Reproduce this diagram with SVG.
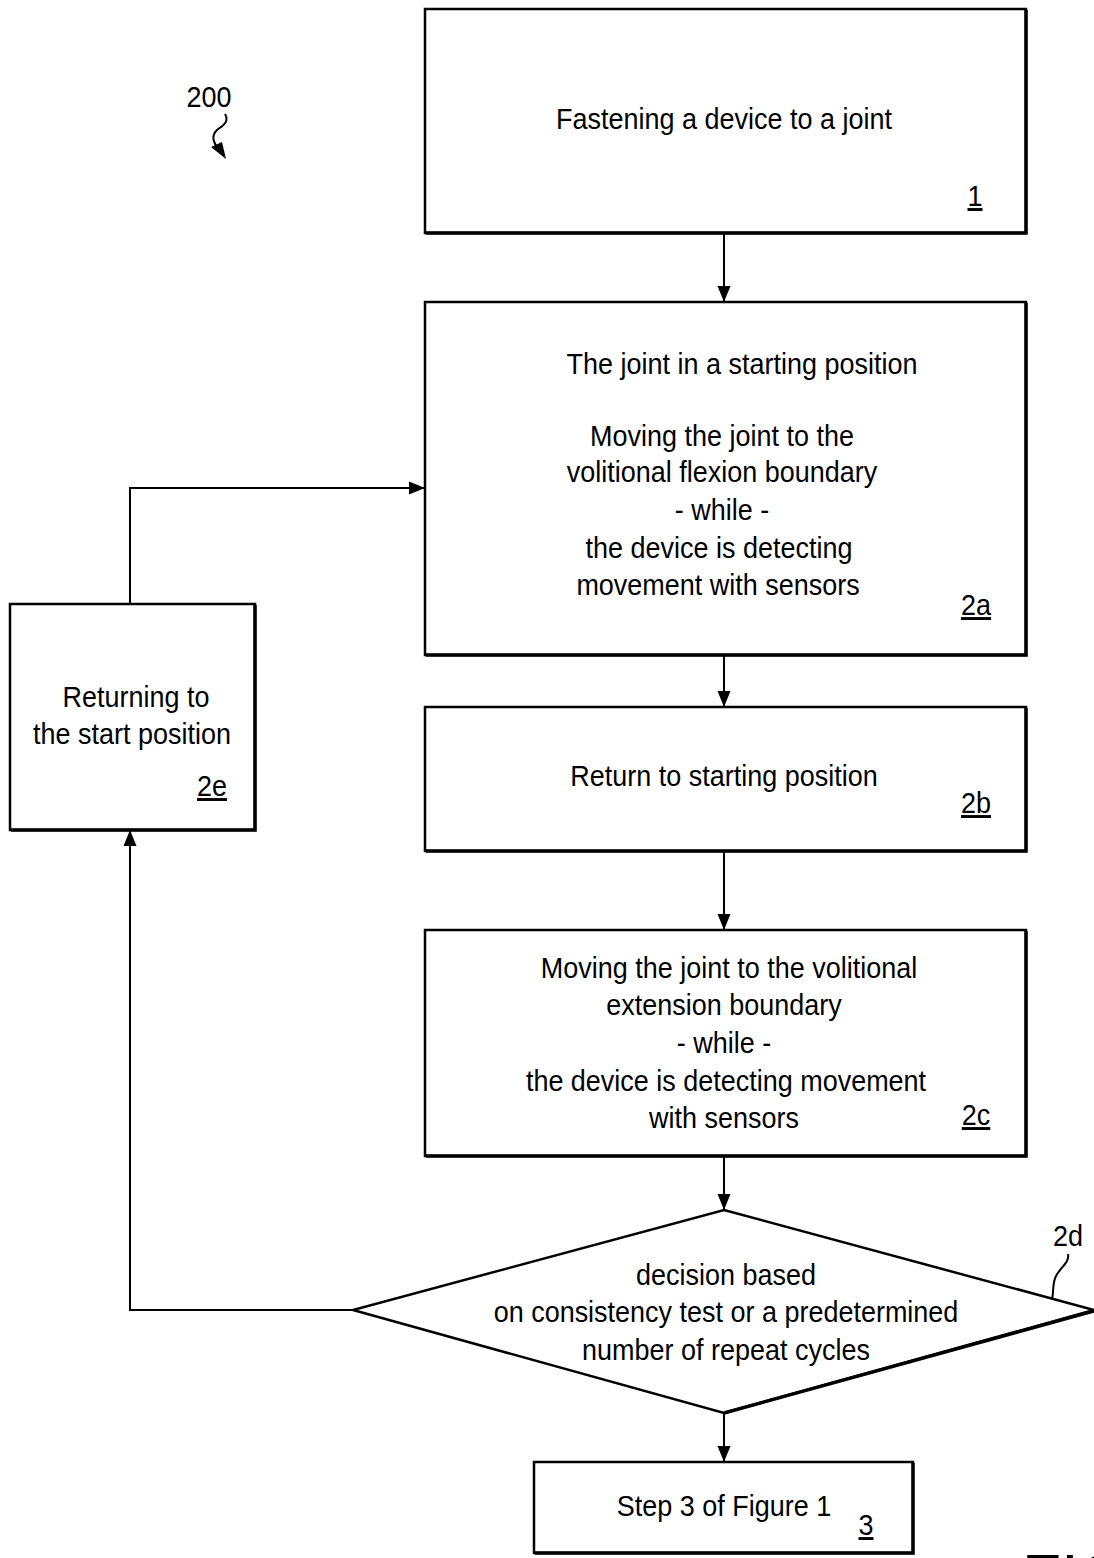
<svg xmlns="http://www.w3.org/2000/svg" width="1094" height="1558" viewBox="0 0 1094 1558">
<defs>
<marker id="ahb" viewBox="0 0 16 16" refX="16" refY="8" markerWidth="16" markerHeight="16" markerUnits="userSpaceOnUse" orient="auto">
<path d="M0,1.5 L16,8 L0,14.5 z" fill="#000"/>
</marker>
</defs>
<style>
.box{fill:#fff;stroke:#000;stroke-width:2.5}
.sh{fill:none;stroke:#000;stroke-width:3.5}
.t{font-family:"Liberation Sans",Arial,sans-serif;font-size:29px;fill:#000;text-anchor:middle}
.lb{font-family:"Liberation Sans",Arial,sans-serif;font-size:29px;fill:#000;text-anchor:middle;text-decoration:underline}
.c{fill:none;stroke:#000;stroke-width:2}
.arr{fill:none;stroke:#000;stroke-width:2;marker-end:url(#ahb)}
</style>
<rect width="1094" height="1558" fill="#fff"/>

<g id="label200">
<text class="t" transform="translate(209,107) scale(0.93,1)">200</text>
<path class="c" d="M225,114 C230,122 222,126 217,130 C211,136 213,142 219,150"/>
<polygon points="226,159 211,147 222,142" fill="#000"/>
</g>

<g id="node1">
<rect class="box" x="425" y="9" width="601" height="224"/>
<path class="sh" d="M1026,10 V233 H426"/>
<text class="t" transform="translate(724,129) scale(0.93,1)">Fastening a device to a joint</text>
<text class="lb" transform="translate(975,206) scale(0.93,1)">1</text>
</g>

<g id="node2a">
<rect class="box" x="425" y="302" width="601" height="353"/>
<path class="sh" d="M1026,303 V655 H426"/>
<text class="t" transform="translate(742,374) scale(0.93,1)">The joint in a starting position</text>
<text class="t" transform="translate(722,446) scale(0.93,1)">Moving the joint to the</text>
<text class="t" transform="translate(722,482) scale(0.93,1)">volitional flexion boundary</text>
<text class="t" transform="translate(722,520) scale(0.93,1)">- while -</text>
<text class="t" transform="translate(719,558) scale(0.93,1)">the device is detecting</text>
<text class="t" transform="translate(718,595) scale(0.93,1)">movement with sensors</text>
<text class="lb" transform="translate(976,615) scale(0.93,1)">2a</text>
</g>

<g id="node2b">
<rect class="box" x="425" y="707" width="601" height="144"/>
<path class="sh" d="M1026,708 V851 H426"/>
<text class="t" transform="translate(724,786) scale(0.93,1)">Return to starting position</text>
<text class="lb" transform="translate(976,813) scale(0.93,1)">2b</text>
</g>

<g id="node2c">
<rect class="box" x="425" y="930" width="601" height="226"/>
<path class="sh" d="M1026,931 V1156 H426"/>
<text class="t" transform="translate(729,978) scale(0.93,1)">Moving the joint to the volitional</text>
<text class="t" transform="translate(724,1015) scale(0.93,1)">extension boundary</text>
<text class="t" transform="translate(724,1053) scale(0.93,1)">- while -</text>
<text class="t" transform="translate(726,1091) scale(0.93,1)">the device is detecting movement</text>
<text class="t" transform="translate(724,1128) scale(0.93,1)">with sensors</text>
<text class="lb" transform="translate(976,1125) scale(0.93,1)">2c</text>
</g>

<g id="node2d">
<polygon points="724,1210 1094,1310 724,1413 353,1310" fill="#fff" stroke="#000" stroke-width="2.5"/>
<path class="sh" d="M1094,1311 L724,1413"/>
<text class="t" transform="translate(726,1285) scale(0.93,1)">decision based</text>
<text class="t" transform="translate(726,1322) scale(0.93,1)">on consistency test or a predetermined</text>
<text class="t" transform="translate(726,1360) scale(0.93,1)">number of repeat cycles</text>
<text class="t" transform="translate(1068,1246) scale(0.93,1)">2d</text>
<path class="c" d="M1068,1254 C1070,1262 1060,1268 1056,1276 C1052,1284 1054,1292 1052,1299"/>
</g>

<g id="node2e">
<rect class="box" x="10" y="604" width="245" height="226"/>
<path class="sh" d="M255,605 V830 H11"/>
<text class="t" transform="translate(136,707) scale(0.93,1)">Returning to</text>
<text class="t" transform="translate(132,744) scale(0.93,1)">the start position</text>
<text class="lb" transform="translate(212,796) scale(0.93,1)">2e</text>
</g>

<g id="node3">
<rect class="box" x="534" y="1462" width="379" height="91"/>
<path class="sh" d="M913,1463 V1553 H535"/>
<text class="t" transform="translate(724,1516) scale(0.93,1)">Step 3 of Figure 1</text>
<text class="lb" transform="translate(866,1535) scale(0.93,1)">3</text>
</g>

<g id="connectors">
<line class="arr" x1="724" y1="233" x2="724" y2="302"/>
<line class="arr" x1="724" y1="655" x2="724" y2="707"/>
<line class="arr" x1="724" y1="851" x2="724" y2="930"/>
<line class="arr" x1="724" y1="1156" x2="724" y2="1210"/>
<line class="arr" x1="724" y1="1413" x2="724" y2="1462"/>
<polyline class="arr" points="353,1310 130,1310 130,830"/>
<polyline class="arr" points="130,604 130,488 425,488"/>
</g>

<text x="1022" y="1600" style="font-family:'Liberation Sans',Arial,sans-serif;font-size:64px;fill:#000">FIG</text>
</svg>
